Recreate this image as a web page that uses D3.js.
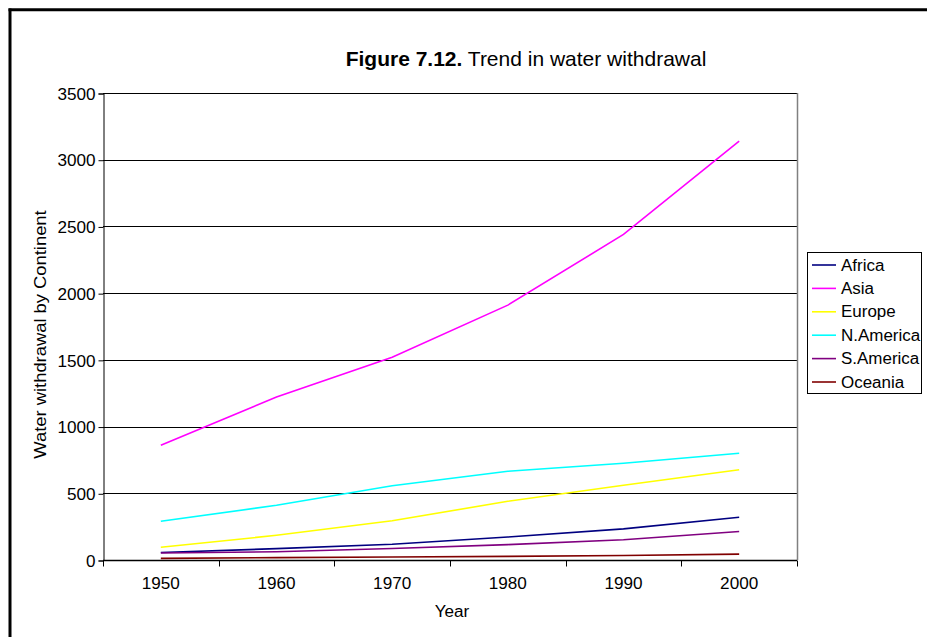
<!DOCTYPE html>
<html>
<head>
<meta charset="utf-8">
<script src="https://cdn.jsdelivr.net/npm/d3@7"></script>
<style>
  html, body { margin: 0; padding: 0; background: #fff; }
  svg { display: block; font-family: "Liberation Sans", Arial, sans-serif; }
</style>
</head>
<body>
<svg id="chart" width="927" height="637"></svg>
<script>
const years = ["1950", "1960", "1970", "1980", "1990", "2000"];
const seriesNames = ["Africa", "Asia", "Europe", "N.America", "S.America", "Oceania"];
const africa   = [56, 85, 118, 172, 233, 320];
const asia     = [860, 1222, 1520, 1910, 2440, 3140];
const europe   = [95, 185, 294, 440, 560, 677];
const nAmerica = [290, 410, 556, 665, 725, 800];
const sAmerica = [52, 62, 86, 115, 152, 214];
const oceania  = [12, 18, 22, 27, 34, 44];
const yTicks   = [0, 500, 1000, 1500, 2000, 2500, 3000, 3500];
const seriesColors = ["#000080", "#FF00FF", "#FFFF00", "#00FFFF", "#800080", "#800000"];
const seriesValues = [africa, asia, europe, nAmerica, sAmerica, oceania];

const svg = d3.select("#chart");

// widen text slightly, like the original rendering
function stretch(sel, factor) {
  sel.each(function () {
    const w = this.getComputedTextLength();
    d3.select(this).attr("textLength", (w * factor).toFixed(1)).attr("lengthAdjust", "spacingAndGlyphs");
  });
}

// outer frame (left and top edges)
svg.append("line").attr("x1", 10).attr("x2", 10).attr("y1", 8.5).attr("y2", 637)
  .attr("stroke", "#000").attr("stroke-width", 3);
svg.append("line").attr("x1", 8.5).attr("x2", 927).attr("y1", 9.7).attr("y2", 9.7)
  .attr("stroke", "#000").attr("stroke-width", 3);

const plot = { left: 103, right: 797, top: 93, bottom: 560 };

const x = d3.scaleBand().domain(years).range([plot.left, plot.right]);
const y = d3.scaleLinear().domain([0, 3500]).range([plot.bottom, plot.top]);

// gridlines
svg.append("g").selectAll("line").data(yTicks.filter(d => d > 0)).join("line")
  .attr("x1", plot.left).attr("x2", plot.right)
  .attr("y1", d => Math.round(y(d)) + 0.5).attr("y2", d => Math.round(y(d)) + 0.5)
  .attr("stroke", "#000").attr("stroke-width", 1);

// plot area right border
svg.append("line").attr("x1", plot.right + 0.5).attr("x2", plot.right + 0.5)
  .attr("y1", plot.top).attr("y2", plot.bottom)
  .attr("stroke", "#808080").attr("stroke-width", 1.5);

// y axis
const yAxis = d3.axisLeft(y).tickValues(yTicks).tickSize(5).tickPadding(3).tickFormat(d3.format("d"));
const gy = svg.append("g").attr("transform", `translate(${plot.left + 0.5},0.5)`).call(yAxis);
gy.select(".domain").attr("stroke", "#000");
gy.selectAll(".tick line").attr("stroke", "#000");
gy.selectAll("text").attr("font-size", 16).attr("fill", "#000")
  .attr("font-family", "Liberation Sans, Arial, sans-serif").attr("dy", "0.36em");
stretch(gy.selectAll("text"), 1.07);

// x axis (ticks at category boundaries)
const gx = svg.append("g").attr("transform", `translate(0,${plot.bottom + 0.5})`);
gx.append("line").attr("x1", plot.left).attr("x2", plot.right).attr("stroke", "#000").attr("stroke-width", 1.5);
const boundaries = years.map(d => x(d)).concat([x(years[years.length - 1]) + x.bandwidth()]);
gx.selectAll("line.tk").data(boundaries).join("line").attr("class", "tk")
  .attr("x1", d => Math.round(d) + 0.5).attr("x2", d => Math.round(d) + 0.5)
  .attr("y1", 0).attr("y2", 6).attr("stroke", "#000");
const xl = gx.selectAll("text").data(years).join("text")
  .attr("x", d => x(d) + x.bandwidth() / 2).attr("y", 28)
  .attr("text-anchor", "middle").attr("font-size", 16).attr("fill", "#000")
  .text(d => d);
stretch(xl, 1.07);

// series lines
const line = d3.line().x((d, i) => x(years[i]) + x.bandwidth() / 2).y(d => y(d));
seriesValues.forEach((vals, i) => {
  svg.append("path").datum(vals).attr("d", line)
    .attr("fill", "none").attr("stroke", seriesColors[i]).attr("stroke-width", 1.6);
});

// axis titles
const xt = svg.append("text").attr("x", 452).attr("y", 617)
  .attr("text-anchor", "middle").attr("font-size", 16).text("Year");
stretch(xt, 1.07);
const yt = svg.append("text").attr("transform", `translate(46,${(plot.top + plot.bottom) / 2 + 8}) rotate(-90)`)
  .attr("text-anchor", "middle").attr("font-size", 17).text("Water withdrawal by Continent");
stretch(yt, 1.08);

// title
const title = svg.append("text").attr("x", 526).attr("y", 66).attr("text-anchor", "middle").attr("font-size", 21);
title.append("tspan").attr("font-weight", "bold").text("Figure 7.12.");
title.append("tspan").text(" Trend in water withdrawal");

// legend
const lg = svg.append("g");
lg.append("rect").attr("x", 807.5).attr("y", 252.5).attr("width", 114).attr("height", 141)
  .attr("fill", "#fff").attr("stroke", "#000").attr("stroke-width", 1);
const ly = d3.scalePoint().domain(seriesNames).range([265, 382]);
seriesNames.forEach((name, i) => {
  lg.append("line").attr("x1", 812).attr("x2", 836).attr("y1", ly(name)).attr("y2", ly(name))
    .attr("stroke", seriesColors[i]).attr("stroke-width", 1.6);
  const t = lg.append("text").attr("x", 841).attr("y", ly(name) + 5.5).attr("font-size", 16).text(name);
  stretch(t, 1.06);
});
</script>
</body>
</html>
